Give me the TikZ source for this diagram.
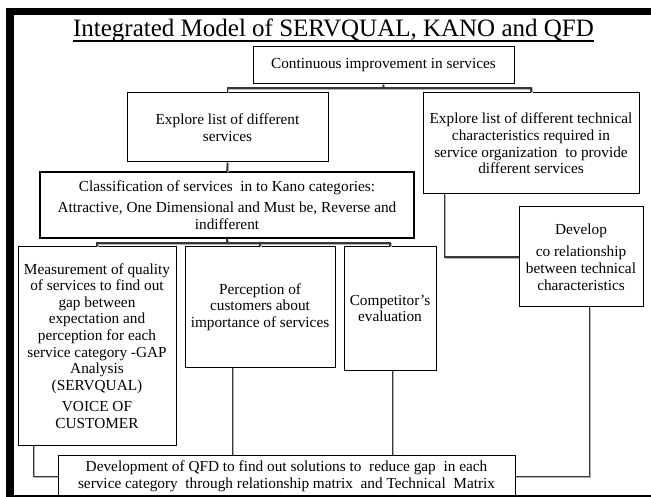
\documentclass[tikz,border=0pt]{standalone}
\usepackage{fontspec}
\setmainfont{Liberation Serif}
\begin{document}
\begin{tikzpicture}[x=1pt,y=-1pt,
  box/.style={draw=black, line width=1pt, fill=white, align=center,
    inner sep=0.5pt, font=\fontsize{15.3}{16.6}\selectfont},
  conn/.style={draw=black!78, line width=1.6pt,
    preaction={draw=black!30, line width=1.6pt,
      transform canvas={shift={(0.9pt,-0.9pt)}}}},
  frame/.style={fill=black}]
\useasboundingbox (0,0) rectangle (651,497);

% page frame
\fill[frame] (6,8) rectangle (651,15);
\fill[frame] (6,8) rectangle (14,497);

% title
\node[inner sep=0pt, font=\fontsize{25}{28}\selectfont, anchor=base] (title) at (333.5,36.5)
  {Integrated Model of SERVQUAL, KANO and QFD};
\draw[line width=1.1pt] ([yshift=-4.5pt]title.base west) -- ([yshift=-4.5pt]title.base east);

% boxes
\node[box, minimum width=261, minimum height=37] (cont) at (383.5,65.5)
  {Continuous improvement in services};
\node[box, minimum width=201, minimum height=69] (explS) at (227.5,127.5)
  {Explore list of different\\services};
\node[box, minimum width=216, minimum height=101] (tech) at (531,143.5)
  {Explore list of different technical\\characteristics required in\\service organization\ \ to provide\\different services};
\node[box, minimum width=374, minimum height=66, line width=1.4pt] (class) at (227,205)
  {Classification of services \ in to Kano categories:\\[5pt]Attractive, One Dimensional and Must be, Reverse and\\indifferent};
\node[box, minimum width=158, minimum height=198] (meas) at (97,346)
  {Measurement of quality\\of services to find out\\gap between\\expectation and\\perception for each\\service category -GAP\\Analysis\\(SERVQUAL)\\[5pt]VOICE OF\\CUSTOMER};
\node[box, minimum width=150, minimum height=120] (perc) at (260,307)
  {Perception of\\customers about\\importance of services};
\node[box, minimum width=92, minimum height=123] (comp) at (390,308.5)
  {Competitor’s\\evaluation};
\node[box, minimum width=124, minimum height=100] (dev) at (581,257)
  {Develop\\[6pt]co relationship\\between technical\\characteristics};

% connectors
\coordinate (b1) at (383,88);
\coordinate (b2) at (227,243);
\draw[conn] (cont.south) -- (b1);
\draw[conn] (explS.north) |- (b1) -| (tech.north);
\draw[conn] (explS.south) -- (class.north);
\draw[conn] (class.south) -- (b2);
\draw[conn] (meas.north) |- (b2) -| (comp.north);
\draw[conn] (perc.north) -- (perc.north |- b2);
\draw[conn] ([xshift=22pt]tech.south west) |- (dev.west);

\node[box, minimum width=457, minimum height=43] (qfd) at (286.5,476.5)
  {Development of QFD to find out solutions to \ reduce gap \ in each\\service category \ through relationship matrix \ and Technical \ Matrix};

\draw[conn] ([xshift=16pt]meas.south west) |- (qfd.west);
\draw[conn] ([xshift=48pt]perc.south west) -- ([xshift=48pt]perc.south west |- qfd.north);
\draw[conn] ([xshift=49pt]comp.south west) -- ([xshift=49pt]comp.south west |- qfd.north);
\draw[conn] ([xshift=71pt]dev.south west) |- (qfd.east);

% bottom rule of the frame
\fill[frame] (6,495) rectangle (651,497);
\end{tikzpicture}
\end{document}
